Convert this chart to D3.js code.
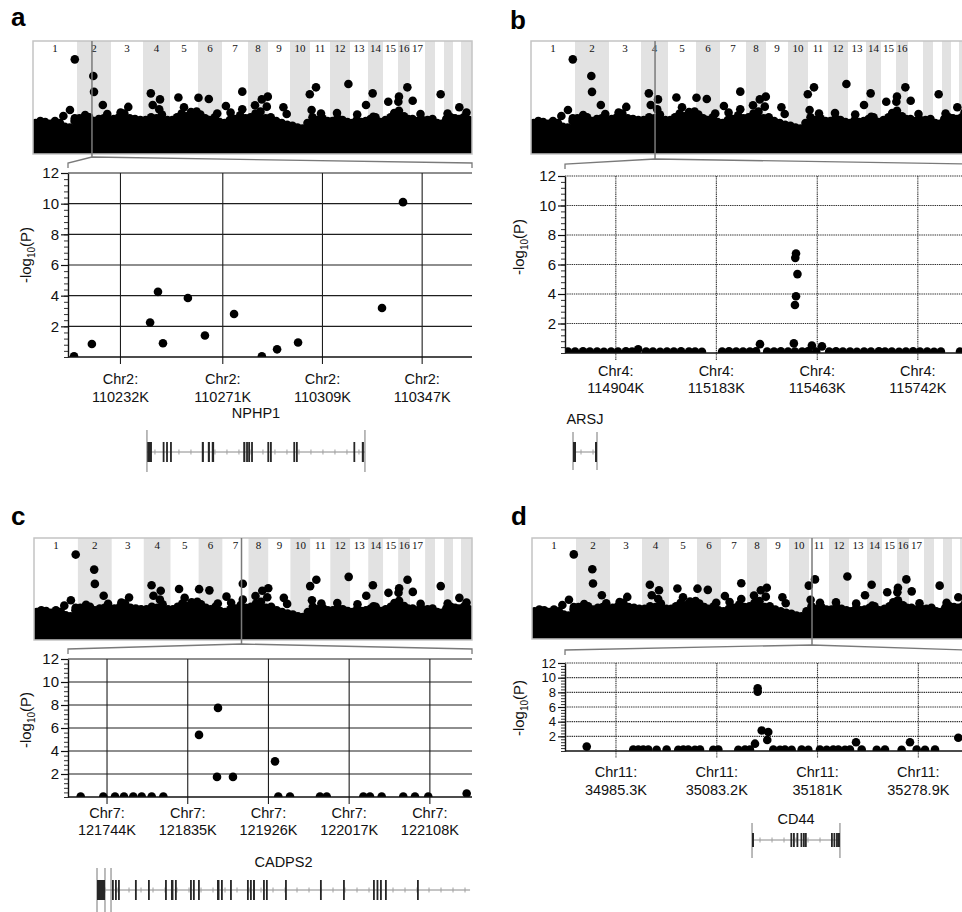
<!DOCTYPE html>
<html>
<head>
<meta charset="utf-8">
<title>Regional association plots</title>
<script src="https://cdn.jsdelivr.net/npm/d3@7"></script>
<style>
  body { margin: 0; background: #fff; }
  svg { display: block; font-family: "Liberation Sans", Arial, sans-serif; }
</style>
</head>
<body>
<svg id="fig" width="962" height="912"></svg>
<script>

/* ---- genome wide panel (same data in a-d) ---- */
// chromosome widths as drawn in the overview strip, chr 1..22
var chrWidths = [44,34,32,27,28,24,26,20,22,20,20,20,18,15,15,12,15,10,9,9,8,11];
// top of the dense SNP cloud, a few readings per chromosome (-log10 P)
var cloudTop = [
  [3.3,3.5,3.4,3.2,3.5,3.3,2.9,2.8,3.5],
  [3.8,3.6,3.9,3.5,3.7,3.8,3.6],
  [3.7,3.9,4.3,3.8,3.7,3.6],
  [3.6,3.9,3.8,4.2,3.6],
  [3.6,3.9,4.3,4.0,3.7,3.8],
  [4.2,3.8,3.6,3.9,3.4],
  [3.3,3.6,3.7,4.1,3.8],
  [3.9,4.3,4.5,3.8],
  [3.9,3.5,3.3,3.1],
  [3.0,2.8,2.7,3.3],
  [3.9,3.6,3.8,3.5],
  [3.5,3.8,3.6,3.4],
  [3.3,3.6,3.4,3.5],
  [3.7,3.9,3.4],
  [3.6,3.9,3.8],
  [3.9,4.0,3.7],
  [3.7,3.5,3.6],
  [3.6,3.7],
  [3.3,3.2],
  [3.7,3.9],
  [3.8,3.7],
  [3.9,3.6]
];
// SNPs standing out of the cloud: [chromosome, place in chromosome 0-1, -log10 P]
var topHits = [
  [1,0.95,10.05],[2,0.48,8.28],[2,0.50,6.60],[2,0.76,5.20],[1,0.84,4.67],[1,0.69,4.04],
  [1,0.95,3.80],[2,0.24,4.14],[2,0.89,4.25],[3,0.54,5.00],[4,0.29,6.44],[4,0.63,5.80],
  [4,0.36,5.20],[4,0.60,4.75],[5,0.30,6.00],[5,0.50,4.96],[6,0.02,5.98],[6,0.45,5.84],
  [5,0.95,4.50],[7,0.15,5.10],[7,0.33,4.39],[7,0.78,6.62],[7,0.78,4.75],[8,0.35,5.17],
  [8,0.69,5.80],[8,0.99,6.09],[8,0.94,5.03],[9,0.70,4.96],[9,0.85,4.25],[10,0.99,6.34],
  [11,0.30,7.08],[11,0.08,4.67],[12,0.92,7.43],[13,0.89,5.20],[14,0.31,6.44],[14,0.35,3.96],
  [15,0.35,5.55],[16,0.08,6.09],[16,0.03,5.55],[16,0.78,7.08],[17,0.18,5.66],[16,0.08,4.60],
  [19,0.63,6.34],[21,0.79,4.96],[3,0.30,4.40],[5,0.75,4.45],[6,0.80,4.30],[11,0.55,4.30],
  [12,0.35,4.35],[13,0.40,4.20],[15,0.75,4.35],[17,0.70,4.25],[20,0.40,4.30],[22,0.50,4.40]
];

/* ---- zoomed regions (positions in kb) ---- */
var regionChr = ["Chr2", "Chr4", "Chr7", "Chr11"];
var regionLocus = [[2,0.44],[4,0.52],[7,0.73],[11,0.15]];   // where the zoom sits in the strip

var aDomain = [110212, 110366];
var aTicks = [110232, 110271, 110309, 110347];
var aPos  = [110214.3,110221.1,110243.3,110246.3,110248.2,110257.7,110264.2,110275.3,110285.9,110291.7,110299.7,110331.7,110339.7];
var aLogP = [0.05,0.85,2.25,4.25,0.9,3.85,1.4,2.8,0.05,0.5,0.95,3.2,10.1];

var bDomain = [114763, 115884];
var bTicks = [114904, 115183, 115463, 115742];
var bPos  = [114771,114791,114813,114832,114852,114871,114891,114910,114932,114949,114966,114988,115007,115027,
             115046,115065,115085,115107,115124,115143,115199,115218,115238,115257,115276,115293,115304,115324,
             115343,115362,115382,115401,115421,115437,115448,115460,115476,115496,115515,115534,115554,115573,
             115593,115612,115634,115651,115670,115690,115709,115729,115748,115768,115787,115806,115859,
             115404,115402,115408,115404,115401,115398];
var bLogP = [0.1,0.1,0.12,0.1,0.1,0.08,0.1,0.1,0.12,0.1,0.25,0.1,0.1,0.08,
             0.1,0.1,0.12,0.1,0.1,0.08,0.1,0.12,0.1,0.1,0.1,0.12,0.6,0.1,
             0.1,0.12,0.1,0.1,0.1,0.12,0.5,0.1,0.45,0.1,0.12,0.1,0.1,0.08,
             0.1,0.1,0.12,0.1,0.1,0.08,0.1,0.12,0.1,0.1,0.08,0.1,0.1,
             6.75,6.45,5.35,3.85,3.25,0.65];

var cDomain = [121700, 122155.5];
var cTicks = [121744, 121835, 121926, 122017, 122108];
var cPos  = [121714.3,121739.8,121753,121763.1,121773.6,121783.1,121794.4,121807.5,121847.7,121869.1,121868,121886,
             121933.4,121937.1,121950.3,121984.1,121991.7,122033,122040.5,122053.7,122078,122091.2,122106.2,122149.5];
var cLogP = [0.05,0.05,0.05,0.05,0.05,0.05,0.05,0.05,5.4,7.75,1.75,1.75,
             3.1,0.05,0.05,0.05,0.05,0.05,0.05,0.05,0.05,0.05,0.05,0.3];

var dDomain = [34935.8, 35328.1];
var dTicks = [34985.3, 35083.2, 35181, 35278.9];
var dPos  = [34956.9,35002.1,35007,35011.8,35016.7,35024.8,35034.5,35045.8,35050.7,35055.5,35062,35066.9,35079.8,
             35084.7,35104.1,35110.6,35115.4,35120.3,35138.1,35144.6,35149.4,35155.9,35165.6,35172.1,35183.4,
             35189.9,35196.3,35201.2,35207.7,35212.5,35218.4,35223.9,35238.5,35246.5,35262.7,35270.8,35277.3,
             35285.4,35295.1,35317.7,35122.9,35122.9,35126.8,35133.2,35132.2];
var dLogP = [0.6,0.2,0.2,0.2,0.2,0.15,0.2,0.15,0.2,0.2,0.15,0.2,0.15,
             0.2,0.15,0.2,0.2,1.0,0.2,0.15,0.2,0.15,0.2,0.15,0.2,
             0.15,0.2,0.2,0.15,0.2,1.2,0.2,0.15,0.2,0.15,1.2,0.2,
             0.15,0.2,1.8,8.55,8.1,2.8,2.6,1.5];

/* ---- genes (kb) ---- */
var geneNames = ["NPHP1", "ARSJ", "CADPS2", "CD44"];
var geneSpan = [[110242.1,110325.2],[114785.2,114851.8],[121732.7,122153.3],[35117.4,35202.8]];
var geneBounds = [[110242.1,110325.2],[114785.2,114851.8],[121732.7,121741.7,121748.5],[35117.4,35202.8]];
var aExons = [[110242.2,110244.0],[110248.1,110248.6],[110249.4,110249.9],[110250.9,110251.4],[110263.0,110263.8],
              [110265.3,110266.1],[110266.8,110267.7],[110278.8,110279.6],[110279.9,110280.4],[110280.7,110281.4],
              [110281.8,110282.3],[110288.0,110288.7],[110289.0,110289.5],[110297.9,110298.5],[110298.9,110299.4],
              [110320.8,110321.3],[110324.0,110324.8]];
var bExons = [[114785.2,114793.5],[114846.3,114851.8]];
var cExons = [[121732.7,121741.7],[121749.6,121751.3],[121753,121754.7],[121756.4,121758.1],[121775.5,121777.2],
              [121790.2,121791.9],[121809.4,121811.1],[121816.1,121818.9],[121820.6,121822.3],[121837.6,121839.3],
              [121840.9,121842.6],[121846.6,121848.3],[121868,121870.8],[121872.5,121873.6],[121882.7,121884.4],
              [121901.8,121903.5],[121905.2,121906.9],[121908.6,121910.8],[121919.9,121921.6],[121923.2,121924.4],
              [121944.7,121946.4],[121984.1,121985.8],[122010.1,122011.8],[122043.9,122045.6],[122047.9,122049.5],
              [122051.8,122053.5],[122057.4,122059.1],[122093.5,122095.2]];
var dExons = [[35117.4,35119.3],[35154.7,35156.2],[35157.2,35158.6],[35160.6,35162.0],[35164.5,35165.9],
              [35166.9,35168.3],[35168.8,35170.3],[35194.1,35195.5],[35196.5,35198.0],[35199.0,35200.4],
              [35200.4,35202.8]];

/* ---- layout ---- */
var panels = [
  {letter:"a", lx:11, ly:26, box:{x:33, y:41, w:439, h:113}, nLab:17,
   plot:{x0:68, x1:472, yTop:173, yBot:357}, apex:157, corner:163, dotted:false, yfs:15,
   ylab:[31,255], tickY:[384,402], gene:{yc:452, lab:418, bt:430, bb:472, eh:20},
   domain:aDomain, ticks:aTicks, pos:aPos, logp:aLogP, exons:aExons},
  {letter:"b", lx:510, ly:29, box:{x:531, y:41, w:439, h:113}, nLab:16,
   plot:{x0:565, x1:969, yTop:176, yBot:353}, apex:159, corner:164, dotted:true, yfs:15,
   ylab:[524, 247], tickY:[376,393], gene:{yc:452, lab:424, bt:432, bb:470, eh:20},
   domain:bDomain, ticks:bTicks, pos:bPos, logp:bLogP, exons:bExons},
  {letter:"c", lx:11, ly:525, box:{x:34, y:538, w:438, h:102}, nLab:17,
   plot:{x0:68, x1:472, yTop:659, yBot:797}, apex:644, corner:649, dotted:false, yfs:15,
   ylab:[31, 720], tickY:[818,835], gene:{yc:890, lab:867, bt:868, bb:912, eh:20},
   domain:cDomain, ticks:cTicks, pos:cPos, logp:cLogP, exons:cExons},
  {letter:"d", lx:511, ly:525, box:{x:532, y:538, w:439, h:101}, nLab:17,
   plot:{x0:565, x1:969, yTop:663, yBot:751}, apex:645, corner:650, dotted:true, yfs:13,
   ylab:[524, 708], tickY:[777,795], gene:{yc:840, lab:824, bt:823, bb:858, eh:14},
   domain:dDomain, ticks:dTicks, pos:dPos, logp:dLogP, exons:dExons}
];

var svg = d3.select("#fig");
svg.append("rect").attr("width", 962).attr("height", 912).attr("fill", "#fff");

var chrStart = [], acc = 0;
chrWidths.forEach(function(w) { chrStart.push(acc); acc += w; });
var genomeLen = acc;
function gpos(chr, frac) { return chrStart[chr - 1] + frac * chrWidths[chr - 1]; }

var cloudPts = [];
cloudTop.forEach(function(vals, i) {
  vals.forEach(function(v, j) {
    cloudPts.push({g: chrStart[i] + (j + 0.5) / vals.length * chrWidths[i], v: v});
  });
});

function drawGenome(p, idx) {
  var b = p.box;
  var x = d3.scaleLinear().domain([0, genomeLen]).range([b.x, b.x + b.w]);
  var y = d3.scaleLinear().domain([0, 12]).range([b.y + b.h, b.y]);
  var g = svg.append("g");
  svg.append("clipPath").attr("id", "gclip" + idx).append("rect")
    .attr("x", b.x).attr("y", b.y).attr("width", b.w).attr("height", b.h);
  var inner = g.append("g").attr("clip-path", "url(#gclip" + idx + ")");

  inner.selectAll(".stripe").data(chrWidths).enter().append("rect")
    .attr("x", function(d, i) { return x(chrStart[i]); })
    .attr("y", b.y).attr("height", b.h)
    .attr("width", function(d) { return x(d) - x(0); })
    .attr("fill", function(d, i) { return i % 2 ? "#e2e2e2" : "#fff"; });

  inner.selectAll(".chrlab").data(chrWidths.slice(0, p.nLab)).enter().append("text")
    .attr("x", function(d, i) { return x(chrStart[i] + d / 2); })
    .attr("y", b.y + 10.5)
    .attr("text-anchor", "middle")
    .style("font-family", "'Liberation Serif', 'DejaVu Serif', serif")
    .style("font-size", "11px").attr("fill", "#111")
    .text(function(d, i) { return i + 1; });

  var pts = [{g: 0, v: cloudPts[0].v}].concat(cloudPts, [{g: genomeLen, v: cloudPts[cloudPts.length - 1].v}]);
  var area = d3.area().x(function(d) { return x(d.g); })
    .y0(b.y + b.h).y1(function(d) { return y(d.v); }).curve(d3.curveMonotoneX);
  inner.append("path").datum(pts).attr("d", area).attr("fill", "#000");
  inner.selectAll(".cloud").data(cloudPts).enter().append("circle")
    .attr("cx", function(d) { return x(d.g); }).attr("cy", function(d) { return y(d.v); })
    .attr("r", 4.3).attr("fill", "#000");
  inner.selectAll(".hit").data(topHits).enter().append("circle")
    .attr("cx", function(d) { return x(gpos(d[0], d[1])); })
    .attr("cy", function(d) { return y(d[2]); })
    .attr("r", 4.3).attr("fill", "#000");

  g.append("rect").attr("x", b.x).attr("y", b.y).attr("width", b.w).attr("height", b.h)
    .attr("fill", "none").attr("stroke", "#c4c4c4").attr("stroke-width", 1.5);

  var lx = x(gpos(regionLocus[idx][0], regionLocus[idx][1]));
  g.append("line").attr("x1", lx).attr("x2", lx).attr("y1", b.y).attr("y2", p.apex)
    .attr("stroke", "#7a7a7a").attr("stroke-width", 1.5);
  // callout bracket to the zoomed plot
  g.append("path")
    .attr("d", "M" + p.plot.x0 + "," + (p.corner + 5) + "L" + p.plot.x0 + "," + p.corner +
               "L" + lx + "," + p.apex + "L" + p.plot.x1 + "," + p.corner + "L" + p.plot.x1 + "," + (p.corner + 5))
    .attr("fill", "none").attr("stroke", "#7a7a7a").attr("stroke-width", 1.3);

  svg.append("text").attr("x", p.lx).attr("y", p.ly).text(p.letter)
    .style("font-size", "26px").style("font-weight", "bold");
}

function drawRegion(p, idx) {
  var q = p.plot;
  var x = d3.scaleLinear().domain(p.domain).range([q.x0, q.x1]);
  var y = d3.scaleLinear().domain([0, 12]).range([q.yBot, q.yTop]);
  var g = svg.append("g");
  var dash = p.dotted ? "1.4,0.8" : null;
  var gridCol = p.dotted ? "#333" : "#1e1e1e";

  g.selectAll(".hg").data([2, 4, 6, 8, 10, 12]).enter().append("line")
    .attr("x1", q.x0).attr("x2", q.x1)
    .attr("y1", function(d) { return y(d); }).attr("y2", function(d) { return y(d); })
    .attr("stroke", gridCol).attr("stroke-width", 1.1).attr("stroke-dasharray", dash);
  g.selectAll(".vg").data(p.ticks).enter().append("line")
    .attr("x1", function(d) { return x(d); }).attr("x2", function(d) { return x(d); })
    .attr("y1", q.yTop).attr("y2", q.yBot + 7)
    .attr("stroke", gridCol).attr("stroke-width", 1.1).attr("stroke-dasharray", dash);

  svg.append("clipPath").attr("id", "rclip" + idx).append("rect")
    .attr("x", q.x0).attr("y", q.yTop - 10).attr("width", q.x1 - q.x0).attr("height", q.yBot - q.yTop + 10);
  g.append("g").attr("clip-path", "url(#rclip" + idx + ")")
    .selectAll("circle").data(p.pos).enter().append("circle")
    .attr("cx", function(d) { return x(d); })
    .attr("cy", function(d, i) { return y(p.logp[i]); })
    .attr("r", 4.3).attr("fill", "#000");

  // axes
  g.append("line").attr("x1", q.x0).attr("x2", q.x1).attr("y1", q.yBot).attr("y2", q.yBot)
    .attr("stroke", "#111").attr("stroke-width", 1.6);
  var minor = g.append("g").attr("transform", "translate(" + q.x0 + ",0)")
    .call(d3.axisLeft(y).tickValues(d3.range(0, 12.01, 0.4)).tickSize(4).tickFormat(""));
  minor.select(".domain").remove();
  minor.selectAll("line").attr("stroke", "#333");
  var major = g.append("g").attr("transform", "translate(" + q.x0 + ",0)")
    .call(d3.axisLeft(y).tickValues([2, 4, 6, 8, 10, 12]).tickSizeInner(7).tickSizeOuter(0).tickPadding(2));
  major.select(".domain").attr("stroke", "#111").attr("stroke-width", 1.4);
  major.selectAll("line").attr("stroke", "#111").attr("stroke-width", 1.2);
  major.selectAll("text").style("font-size", p.yfs + "px").style("font-family", "'Liberation Sans', Arial, sans-serif")
    .attr("fill", "#111");

  var yl = g.append("text")
    .attr("transform", "translate(" + p.ylab[0] + "," + p.ylab[1] + ") rotate(-90)")
    .attr("text-anchor", "middle").style("font-size", "15px").attr("fill", "#111");
  yl.append("tspan").text("-log");
  yl.append("tspan").text("10").attr("dy", 4).style("font-size", "10px");
  yl.append("tspan").text("(P)").attr("dy", -4);

  var lab = g.selectAll(".xl").data(p.ticks).enter().append("text")
    .attr("text-anchor", "middle").style("font-size", "14.5px").attr("fill", "#111");
  lab.append("tspan").attr("x", function(d) { return x(d); }).attr("y", p.tickY[0])
    .text(regionChr[idx] + ":");
  lab.append("tspan").attr("x", function(d) { return x(d); }).attr("y", p.tickY[1])
    .text(function(d) { return d + "K"; });

  drawGene(p, idx, x);
}

function drawGene(p, idx, x) {
  var G = p.gene, span = geneSpan[idx];
  var g = svg.append("g");
  var xs = x(span[0]), xe = x(span[1]);
  g.append("line").attr("x1", xs).attr("x2", xe).attr("y1", G.yc).attr("y2", G.yc)
    .attr("stroke", "#8a8a8a").attr("stroke-width", 1);
  g.selectAll(".arrow").data(d3.range(xs + 8, xe - 4, 12)).enter().append("line")
    .attr("x1", function(d) { return d; }).attr("x2", function(d) { return d; })
    .attr("y1", G.yc - 2.5).attr("y2", G.yc + 2.5)
    .attr("stroke", "#a0a0a0").attr("stroke-width", 1);
  g.selectAll(".bound").data(geneBounds[idx]).enter().append("line")
    .attr("x1", function(d) { return x(d); }).attr("x2", function(d) { return x(d); })
    .attr("y1", G.bt).attr("y2", G.bb)
    .attr("stroke", "#777").attr("stroke-width", 1);
  g.selectAll(".exon").data(p.exons).enter().append("rect")
    .attr("x", function(d) { return x(d[0]); })
    .attr("width", function(d) { return Math.max(1.8, x(d[1]) - x(d[0])); })
    .attr("y", G.yc - G.eh / 2).attr("height", G.eh)
    .attr("fill", "#262626");
  g.append("text").attr("x", (xs + xe) / 2).attr("y", G.lab)
    .attr("text-anchor", "middle").style("font-size", "14.5px").attr("fill", "#111")
    .text(geneNames[idx]);
}

panels.forEach(function(p, i) {
  drawGenome(p, i);
  drawRegion(p, i);
});

</script>
</body>
</html>
